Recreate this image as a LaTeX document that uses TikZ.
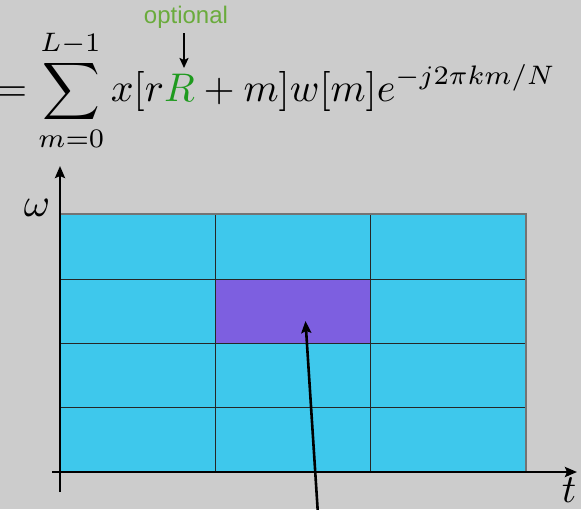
\documentclass[tikz,border=0pt]{standalone}
\usepackage{fontspec}
\newfontfamily\labelfont{Liberation Sans}
\usetikzlibrary{arrows.meta}
\definecolor{bg}{HTML}{CCCCCC}
\definecolor{cell}{HTML}{3EC8EC}
\definecolor{hl}{HTML}{7D5FE0}
\definecolor{optgreen}{HTML}{6AAB3C}
\definecolor{rgreen}{HTML}{1E9A1E}
\newcommand{\bigmath}[1]{\scalebox{4}{#1}}
\newcommand{\smallsc}[1]{\scalebox{0.955}{$\scriptstyle #1$}}
\tikzset{
  axis/.style={line width=2.7pt,-{Stealth[length=12pt,width=10pt,inset=2pt]}},
  pointer/.style={line width=2.6pt,-{Stealth[length=12pt,width=10pt,inset=2pt]}},
  gridline/.style={line width=1pt,draw=black!85},
}
\begin{document}
\begin{tikzpicture}[x=1pt,y=-1pt]
\fill[bg] (0,0) rectangle (581,509);
\useasboundingbox (0,0) rectangle (581,509);
% cells
\fill[cell] (60,214) rectangle (526,472);
\node[fill=hl,draw=none,minimum width=155pt,minimum height=64pt,inner sep=0pt] (sel) at (292.5,311) {};
\draw[gridline] (215,214) -- (215,472);
\draw[gridline] (370,214) -- (370,472);
\draw[gridline] (60,279) -- (526,279);
\draw[gridline] (60,343) -- (526,343);
\draw[gridline] (60,407) -- (526,407);
\draw[line width=1.8pt,draw=black!55] (60,214) -- (526,214) -- (526,472);
% axes
\coordinate (yb) at (60,492);
\coordinate (yt) at (60,166);
\coordinate (xl) at (52,472);
\coordinate (xr) at (577,472);
\draw[axis] (yb) -- (yt);
\draw[axis] (xl) -- (xr);
\node (om) at (37,208) {\bigmath{$\omega$}};
\node (tt) at (569,490) {\bigmath{$t$}};
% pointer to highlighted cell
\coordinate (ptail) at (318,515);
\coordinate (phead) at (305.5,321);
\draw[pointer] (ptail) -- (phead);
% formula
\node[anchor=base west,inner sep=0pt] (eq) at (-4,101)
  {\bigmath{$\displaystyle =\sum_{\smallsc{m=0}}^{\smallsc{L-1}} x[r{\color{rgreen}R}+m]w[m]e^{\smallsc{-j2\pi km/N}}$}};
\node[anchor=base,inner sep=0pt,text=optgreen] (opt) at (186,23)
  {\labelfont\fontsize{24}{28}\selectfont optional};
\coordinate (rtop) at (184,68);
\draw[line width=2pt,-{Stealth[length=10pt,width=9pt,inset=2pt]}] (184,33) -- (rtop);
\end{tikzpicture}
\end{document}
